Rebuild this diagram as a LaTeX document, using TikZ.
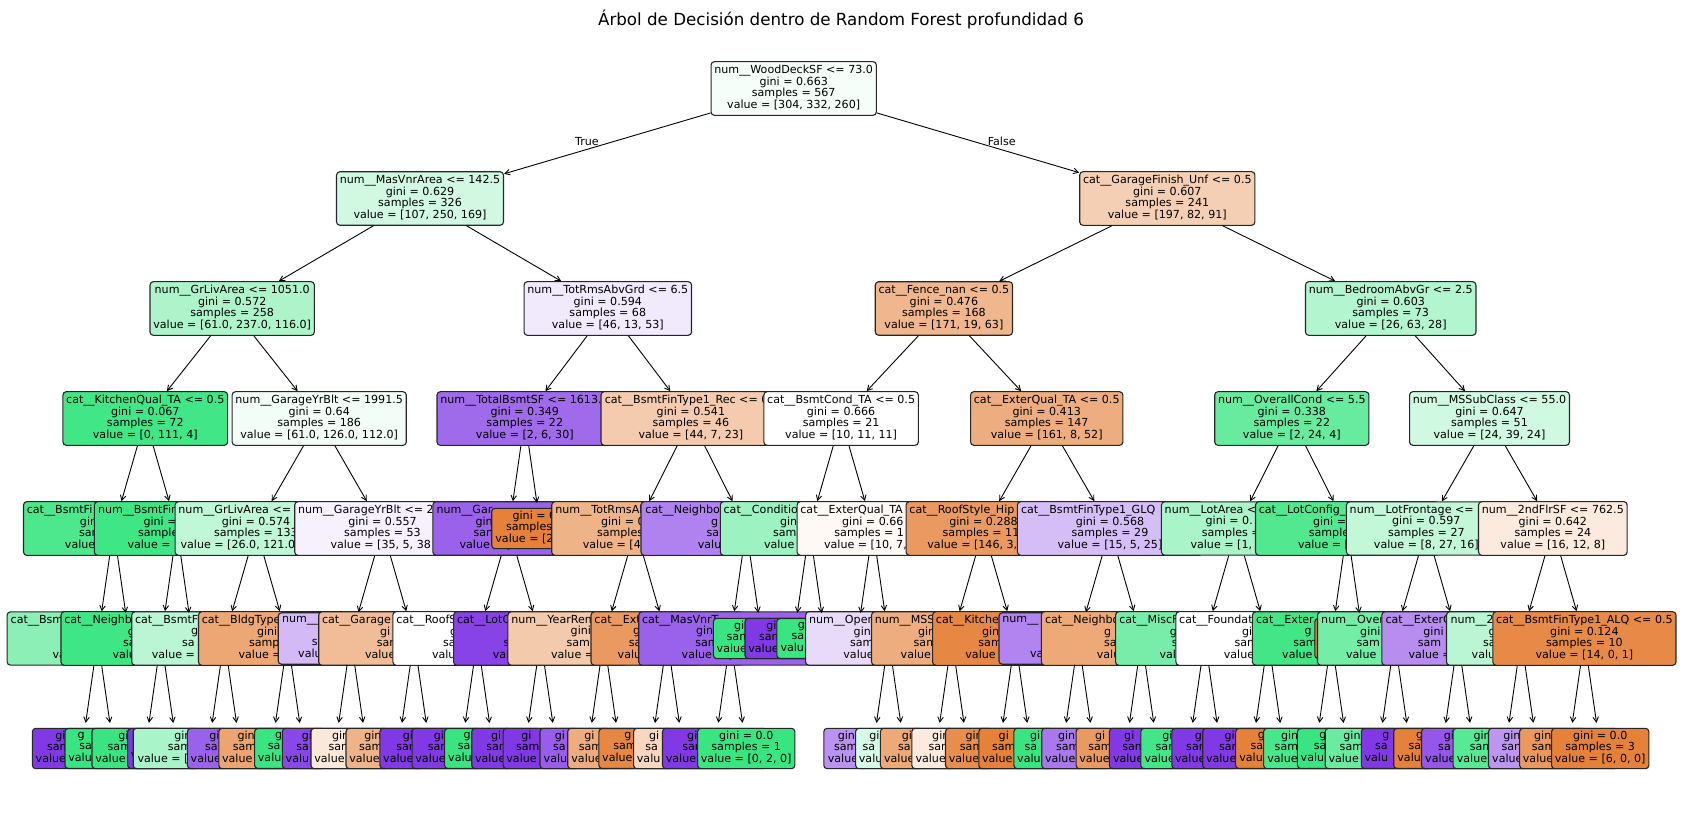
\documentclass[tikz,border=0pt]{standalone}
\usepackage{fontspec}
\setmainfont{DejaVu Sans}
\usetikzlibrary{arrows.meta}

\definecolor{corange}{HTML}{E58139}
\definecolor{cgreen}{HTML}{39E581}
\definecolor{cpurple}{HTML}{8139E5}

\newcommand{\nodefont}{\fontsize{11.1}{11.7}\selectfont}
% a text line of which only the left part shows
\newcommand{\cutl}[2]{\makebox[#1pt][l]{#2}}

\tikzset{
  box/.style={draw=black!85, line width=1.1pt, rounded corners=3.3pt, inner xsep=3.3pt, inner ysep=3.3pt,
    align=center, font=\nodefont, execute at begin node=\strut, execute at end node=\strut},
  leaf/.style={box, inner ysep=2.5pt, minimum height=40pt},
  link/.style={line width=0.9pt, -{Straight Barb[length=5pt, width=5.5pt]}},
  tolf/.style={link, shorten >=5pt},
}

\begin{document}
\begin{tikzpicture}[x=1pt, y=-1pt]
\useasboundingbox (0,0) rectangle (1683,814);

\node[font=\fontsize{16.7}{20}\selectfont] (title) at (841,19) {Árbol de Decisión dentro de Random Forest profundidad 6};

% depth 0 to 3
\node[box, fill=cgreen!5] (root) at (793.7,88.5) {num\_\_WoodDeckSF <= 73.0\\gini = 0.663\\samples = 567\\value = [304, 332, 260]};
\node[box, fill=cgreen!23] (masvnr) at (420.0,198.5) {num\_\_MasVnrArea <= 142.5\\gini = 0.629\\samples = 326\\value = [107, 250, 169]};
\node[box, fill=corange!38] (garfin) at (1167.3,198.5) {cat\_\_GarageFinish\_Unf <= 0.5\\gini = 0.607\\samples = 241\\value = [197, 82, 91]};
\node[box, fill=cgreen!41] (grliv) at (232.2,308.5) {num\_\_GrLivArea <= 1051.0\\gini = 0.572\\samples = 258\\value = [61.0, 237.0, 116.0]};
\node[box, fill=cpurple!11] (totrms) at (607.8,308.5) {num\_\_TotRmsAbvGrd <= 6.5\\gini = 0.594\\samples = 68\\value = [46, 13, 53]};
\node[box, fill=corange!57] (fence) at (943.9,308.5) {cat\_\_Fence\_nan <= 0.5\\gini = 0.476\\samples = 168\\value = [171, 19, 63]};
\node[box, fill=cgreen!39] (bedroom) at (1390.7,308.5) {num\_\_BedroomAbvGr <= 2.5\\gini = 0.603\\samples = 73\\value = [26, 63, 28]};
\node[box, fill=cgreen!96] (kitqual) at (145.3,418.5) {cat\_\_KitchenQual\_TA <= 0.5\\gini = 0.067\\samples = 72\\value = [0, 111, 4]};
\node[box, fill=cgreen!7] (garyr) at (319.2,418.5) {num\_\_GarageYrBlt <= 1991.5\\gini = 0.64\\samples = 186\\value = [61.0, 126.0, 112.0]};
\node[box, fill=cpurple!75, minimum width=174.8pt] (totbsmt) at (524.8,418.5) {\cutl{169}{num\_\_TotalBsmtSF <= 1613.}\\gini = 0.349\\samples = 22\\value = [2, 6, 30]};
\node[box, fill=corange!41, minimum width=179.8pt] (finrec) at (690.9,418.5) {\cutl{172.2}{cat\_\_BsmtFinType1\_Rec <= 0}\\gini = 0.541\\samples = 46\\value = [44, 7, 23]};
\node[box, fill=white] (bsmtcond) at (841.1,418.5) {cat\_\_BsmtCond\_TA <= 0.5\\gini = 0.666\\samples = 21\\value = [10, 11, 11]};
\node[box, fill=corange!65] (extqual) at (1046.7,418.5) {cat\_\_ExterQual\_TA <= 0.5\\gini = 0.413\\samples = 147\\value = [161, 8, 52]};
\node[box, fill=cgreen!77] (ovcond) at (1291.8,418.5) {num\_\_OverallCond <= 5.5\\gini = 0.338\\samples = 22\\value = [2, 24, 4]};
\node[box, fill=cgreen!24] (mssub) at (1489.5,418.5) {num\_\_MSSubClass <= 55.0\\gini = 0.647\\samples = 51\\value = [24, 39, 24]};

% depth 4
\node[box, fill=cgreen!90, minimum width=180pt] (finA) at (113.6,528.5) {\cutl{173.6}{cat\_\_BsmtFi}\\\cutl{67.2}{gin}\\\cutl{69.2}{sam}\\\cutl{97.2}{value}};
\node[box, fill=cgreen!97, minimum width=165.2pt] (finB) at (176.9,528.5) {\cutl{157.8}{num\_\_BsmtFin}\\\cutl{66.8}{gini =}\\\cutl{77.8}{sample}\\\cutl{98.8}{value = [}};
\node[box, fill=cgreen!32, minimum width=160.6pt] (grlivB) at (256.0,528.5) {\cutl{155.1}{num\_\_GrLivArea <=}\\gini = 0.574\\\cutl{83.9}{samples = 133}\\\cutl{150.9}{value = [26.0, 121.0}};
\node[box, fill=cpurple!7, minimum width=173.6pt] (garyrB) at (382.5,528.5) {\cutl{169}{num\_\_GarageYrBlt <= 2}\\gini = 0.557\\samples = 53\\\cutl{104}{value = [35, 5, 38}};
\node[box, fill=cpurple!80, minimum width=152.4pt] (garB) at (509.0,528.5) {\cutl{145}{num\_\_Gar}\\\cutl{66.8}{gin}\\\cutl{71}{sam}\\\cutl{98.8}{value = [0, 6, 30}};
\node[leaf, fill=corange, minimum width=97.8pt] (bsmtlf) at (540.6,528.5) {\cutl{56}{gini = 0}\\\cutl{69.2}{samples}\\\cutl{90.4}{value = [2}};
\node[box, fill=corange!60, minimum width=167.6pt] (totrmsB) at (635.5,528.5) {\cutl{160.2}{num\_\_TotRmsAb}\\\cutl{69}{gini = 0}\\\cutl{77}{samples}\\\cutl{105.4}{value = [4}};
\node[box, fill=cpurple!63, minimum width=210.4pt] (neighB) at (746.2,528.5) {\cutl{201.6}{cat\_\_Neighbor}\\\cutl{70}{g}\\\cutl{79.2}{sa}\\\cutl{96.8}{valu}};
\node[box, fill=cgreen!50, minimum width=178.2pt] (condB) at (809.5,528.5) {\cutl{171.8}{cat\_\_Conditio}\\\cutl{59}{gini}\\\cutl{73}{sam}\\\cutl{91}{value}};
\node[box, fill=corange!5, minimum width=151pt] (extqB) at (872.8,528.5) {\cutl{144.9}{cat\_\_ExterQual\_TA}\\gini = 0.66\\\cutl{76.7}{samples = 1}\\\cutl{97.5}{value = [10, 7,}};
\node[box, fill=corange!80, minimum width=154.4pt] (roofB) at (983.5,528.5) {\cutl{148.2}{cat\_\_RoofStyle\_Hip}\\gini = 0.288\\\cutl{81.6}{samples = 11}\\\cutl{112.2}{value = [146, 3,}};
\node[box, fill=cpurple!33, minimum width=185.2pt] (glqB) at (1110.0,528.5) {\cutl{178}{cat\_\_BsmtFinType1\_GLQ}\\gini = 0.568\\samples = 29\\value = [15, 5, 25]};
\node[box, fill=cgreen!43, minimum width=150pt] (lotarB) at (1236.5,528.5) {\cutl{143.6}{num\_\_LotArea <}\\\cutl{61.8}{gini = 0.}\\\cutl{69.4}{samples =}\\\cutl{92}{value = [1,}};
\node[box, fill=cgreen!88, minimum width=183.2pt] (lotcfB) at (1347.2,528.5) {\cutl{176.8}{cat\_\_LotConfig\_}\\\cutl{68.4}{gini =}\\\cutl{76.8}{sample}\\\cutl{98.4}{value = [}};
\node[box, fill=cgreen!31, minimum width=158.6pt] (lotfrB) at (1426.3,528.5) {\cutl{153.2}{num\_\_LotFrontage <=}\\gini = 0.597\\samples = 27\\value = [8, 27, 16]};
\node[box, fill=corange!17] (flrB) at (1552.8,528.5) {num\_\_2ndFlrSF <= 762.5\\gini = 0.642\\samples = 24\\value = [16, 12, 8]};

% depth 5
\node[box, fill=cgreen!58, minimum width=181.4pt] (e1) at (97.8,638.5) {\cutl{174.2}{cat\_\_Bsm}\\\mbox{}\\\mbox{}\\\cutl{90.6}{va}};
\coordinate (h1) at (125.7,613);
\node[box, fill=cgreen!97, minimum width=199.4pt] (e2) at (161.1,638.5) {\cutl{193.6}{cat\_\_Neighb}\\\cutl{66.4}{g}\\\cutl{76.2}{sa}\\\cutl{97.2}{valu}};
\coordinate (h2) at (189.0,613);
\node[box, fill=cgreen!35, minimum width=184.4pt] (e3) at (224.3,638.5) {\cutl{178.6}{cat\_\_BsmtF}\\\cutl{66.6}{g}\\\cutl{84.6}{sa}\\\cutl{145}{value =}};
\node[box, fill=corange!70, minimum width=178pt] (e4) at (287.6,638.5) {\cutl{171.6}{cat\_\_BldgType}\\\cutl{61.2}{gini}\\\cutl{77.2}{samp}\\\cutl{98}{value =}};
\node[box, fill=cpurple!35, minimum width=145.4pt] (e5) at (350.9,638.5) {\cutl{137.8}{num\_\_}\\\mbox{}\\\cutl{78.2}{s}\\\cutl{105.4}{valu}};
\node[box, fill=corange!52, minimum width=190.2pt] (e6) at (414.1,638.5) {\cutl{184.2}{cat\_\_Garage}\\\cutl{68.2}{gi}\\\cutl{74.6}{sam}\\\cutl{98.2}{value}};
\node[box, fill=white, minimum width=169pt] (e7) at (477.4,638.5) {\cutl{162}{cat\_\_RoofS}\\\cutl{54.8}{g}\\\cutl{68.8}{sa}\\\cutl{90.8}{valu}};
\node[box, fill=cpurple!95, minimum width=174pt] (e8) at (540.6,638.5) {\cutl{167.2}{cat\_\_LotC}\\\mbox{}\\\cutl{74}{s}\\\cutl{95.4}{val}};
\node[box, fill=corange!42, minimum width=192pt] (e9) at (603.9,638.5) {\cutl{185}{num\_\_YearRem}\\\cutl{66.4}{gini}\\\cutl{74.6}{sam}\\\cutl{105.8}{value =}};
\node[box, fill=corange!80, minimum width=152.4pt] (e10) at (667.2,638.5) {\cutl{145.6}{cat\_\_Ext}\\\cutl{68.4}{g}\\\cutl{76.8}{sa}\\\cutl{99}{valu}};
\node[box, fill=cpurple!80, minimum width=182.4pt] (e11) at (730.4,638.5) {\cutl{176.8}{cat\_\_MasVnrT}\\\cutl{68.8}{gini}\\\cutl{70}{sam}\\\cutl{97.4}{value = [0, 2, 10}};
\node[leaf, fill=cgreen, minimum width=96.4pt] (e12) at (762.0,638.5) {\cutl{55.8}{gi}\\\cutl{70.6}{sam}\\\cutl{90.6}{value}};
\node[leaf, fill=cpurple, minimum width=96.4pt] (e13) at (793.7,638.5) {\cutl{54.6}{gi}\\\cutl{69.4}{sam}\\\cutl{90.8}{value}};
\node[leaf, fill=cgreen, minimum width=97pt] (e14) at (825.3,638.5) {\cutl{54.8}{g}\\\cutl{67.4}{sa}\\\cutl{89.6}{valu}};
\coordinate (h3) at (860.6,613);
\node[box, fill=cpurple!18, minimum width=166pt] (e15) at (888.6,638.5) {\cutl{159.2}{num\_\_Open}\\\cutl{69.8}{gin}\\\cutl{77.2}{sam}\\\cutl{90.4}{value}};
\node[box, fill=corange!65, minimum width=159.2pt] (e16) at (951.8,638.5) {\cutl{154}{num\_\_MSS}\\\cutl{67.6}{gin}\\\cutl{76.2}{sam}\\\cutl{102.2}{value}};
\node[box, fill=corange!95, minimum width=164.4pt] (e17) at (1015.1,638.5) {\cutl{158.4}{cat\_\_Kitche}\\\cutl{66.2}{gin}\\\cutl{73.4}{sam}\\\cutl{99.4}{value}};
\node[box, fill=cpurple!62, minimum width=158.6pt] (e18) at (1078.3,638.5) {\cutl{151.8}{num\_\_}\\\mbox{}\\\mbox{}\\\cutl{96.4}{va}};
\node[box, fill=corange!68, minimum width=200.6pt] (e19) at (1141.6,638.5) {\cutl{193.2}{cat\_\_Neighbo}\\\cutl{74.8}{g}\\\cutl{75.2}{sa}\\\cutl{89.6}{valu}};
\node[box, fill=cgreen!68, minimum width=178.6pt] (e20) at (1204.9,638.5) {\cutl{171.2}{cat\_\_MiscF}\\\cutl{70}{g}\\\cutl{66}{s}\\\cutl{90.8}{valu}};
\node[box, fill=white, minimum width=183.8pt] (e21) at (1268.1,638.5) {\cutl{177.8}{cat\_\_Foundat}\\\cutl{52.2}{gi}\\\cutl{67}{sam}\\\cutl{88.6}{value}};
\node[box, fill=cgreen!95, minimum width=158pt] (e22) at (1331.4,638.5) {\cutl{150.6}{cat\_\_Exter}\\\cutl{53.8}{g}\\\cutl{76.2}{sam}\\\cutl{98.4}{value}};
\node[leaf, fill=corange, minimum width=96.4pt] (e23) at (1363.0,638.5) {};
\node[box, fill=cgreen!70, minimum width=154.2pt] (e24) at (1394.6,638.5) {\cutl{146.8}{num\_\_Over}\\\cutl{68.8}{gini}\\\cutl{76.2}{sam}\\\cutl{97}{value}};
\node[box, fill=cpurple!57, minimum width=152.2pt] (e25) at (1457.9,638.5) {\cutl{144.8}{cat\_\_ExterQ}\\\cutl{69}{gini}\\\cutl{80.2}{sam}\\\cutl{98.6}{value =}};
\node[box, fill=cgreen!35, minimum width=149.4pt] (e26) at (1521.2,638.5) {\cutl{141.2}{num\_\_2n}\\\cutl{65.4}{g}\\\cutl{76.4}{sa}\\\cutl{99}{valu}};
\node[box, fill=corange!93] (e27) at (1584.4,638.5) {cat\_\_BsmtFinType1\_ALQ <= 0.5\\gini = 0.124\\samples = 10\\value = [14, 0, 1]};

% depth 6, leaves
\node[leaf, fill=cpurple, minimum width=97.6pt] (l0) at (82.0,748.5) {\cutl{53.2}{gi}\\\cutl{69.8}{sam}\\\cutl{92.6}{value}};
\node[leaf, fill=cgreen, minimum width=96.4pt] (l1) at (113.6,748.5) {\cutl{71.8}{g}\\\cutl{68.6}{sa}\\\cutl{90.6}{valu}};
\node[leaf, fill=cgreen, minimum width=103.4pt] (l2) at (145.3,748.5) {\cutl{54}{gi}\\\cutl{75.2}{sam}\\\cutl{100}{value}};
\node[leaf, fill=cpurple, minimum width=95.2pt] (l3) at (176.9,748.5) {\mbox{}\\\mbox{}\\\cutl{92}{v}};
\node[leaf, fill=cgreen!43, minimum width=150.6pt] (l4) at (208.5,748.5) {\cutl{68.4}{gin}\\\cutl{81.2}{sam}\\\cutl{142}{value = [}};
\node[leaf, fill=cpurple!80, minimum width=103.8pt] (l5) at (240.2,748.5) {\cutl{61.8}{gi}\\\cutl{70.4}{sa}\\\cutl{99}{value}};
\node[leaf, fill=corange!72, minimum width=104.4pt] (l6) at (271.8,748.5) {\cutl{68.6}{gin}\\\cutl{77.8}{sam}\\\cutl{99.4}{value}};
\node[leaf, fill=cgreen, minimum width=96pt] (l7) at (303.4,748.5) {\cutl{56.8}{g}\\\cutl{71}{sa}\\\cutl{91}{valu}};
\node[leaf, fill=cpurple!93, minimum width=104.2pt] (l8) at (335.0,748.5) {\cutl{66.4}{gi}\\\cutl{77.2}{sa}\\\cutl{98.6}{valu}};
\node[leaf, fill=corange!18, minimum width=109.8pt] (l9) at (366.7,748.5) {\cutl{69.4}{gin}\\\cutl{76.2}{sam}\\\cutl{104.8}{value}};
\node[leaf, fill=corange!60, minimum width=103.8pt] (l10) at (398.3,748.5) {\cutl{68}{gin}\\\cutl{78.6}{sam}\\\cutl{98}{value}};
\node[leaf, fill=cpurple, minimum width=97pt] (l11) at (429.9,748.5) {\cutl{54}{gi}\\\cutl{67}{sam}\\\cutl{93.4}{value}};
\node[leaf, fill=cpurple, minimum width=96.8pt] (l12) at (461.6,748.5) {\cutl{55.4}{gi}\\\cutl{67.4}{sam}\\\cutl{92.4}{value}};
\node[leaf, fill=cgreen, minimum width=97.2pt] (l13) at (493.2,748.5) {\cutl{59.2}{g}\\\cutl{70.6}{sa}\\\cutl{90}{valu}};
\node[leaf, fill=cpurple, minimum width=103.2pt] (l14) at (524.8,748.5) {\cutl{67.6}{gi}\\\cutl{76.8}{sam}\\\cutl{99.6}{value}};
\node[leaf, fill=cpurple, minimum width=104.4pt] (l15) at (556.5,748.5) {\cutl{70.2}{gi}\\\cutl{81}{sam}\\\cutl{100.2}{value}};
\node[leaf, fill=cpurple!82, minimum width=96.2pt] (l16) at (588.1,748.5) {\cutl{66.6}{gi}\\\cutl{70.2}{sa}\\\cutl{88.8}{valu}};
\node[leaf, fill=corange!65, minimum width=104pt] (l17) at (619.7,748.5) {\cutl{70.6}{gi}\\\cutl{81.8}{sam}\\\cutl{96.6}{value}};
\node[leaf, fill=corange!95, minimum width=104.2pt] (l18) at (651.3,748.5) {\cutl{53.8}{g}\\\cutl{76}{sam}\\\cutl{98.2}{value}};
\node[leaf, fill=corange!32, minimum width=97.4pt] (l19) at (683.0,748.5) {\cutl{67.8}{gi}\\\cutl{75.2}{sa}\\\cutl{92.2}{valu}};
\node[leaf, fill=cpurple, minimum width=102.8pt] (l20) at (714.6,748.5) {\cutl{54.8}{gi}\\\cutl{64.4}{sam}\\\cutl{97.6}{value}};
\node[leaf, fill=cgreen] (l21) at (746.2,748.5) {gini = 0.0\\samples = 1\\value = [0, 2, 0]};
\node[leaf, fill=cpurple!55, minimum width=98pt] (l25) at (872.8,748.5) {\cutl{69.9}{gin}\\\cutl{77.3}{sam}\\\cutl{89.9}{value}};
\node[leaf, fill=cgreen!20, minimum width=96.2pt] (l26) at (904.4,748.5) {\cutl{70.2}{gi}\\\cutl{83.6}{sa}\\\cutl{91}{valu}};
\node[leaf, fill=corange!68, minimum width=111.2pt] (l27) at (936.0,748.5) {\cutl{68.4}{gi}\\\cutl{75.8}{sa}\\\cutl{103.8}{value}};
\node[leaf, fill=corange!17, minimum width=111.6pt] (l28) at (967.6,748.5) {\cutl{70.8}{gin}\\\cutl{78.2}{sam}\\\cutl{104.2}{value}};
\node[leaf, fill=corange!90, minimum width=104.6pt] (l29) at (999.3,748.5) {\cutl{67.6}{gin}\\\cutl{78.8}{sam}\\\cutl{101}{value}};
\node[leaf, fill=corange, minimum width=103.4pt] (l30) at (1030.9,748.5) {\cutl{64.4}{gi}\\\cutl{77.6}{sam}\\\cutl{97.6}{value}};
\node[leaf, fill=cgreen, minimum width=96.6pt] (l31) at (1062.5,748.5) {\cutl{64.8}{gi}\\\cutl{76}{sa}\\\cutl{90.6}{valu}};
\node[leaf, fill=cpurple!68, minimum width=104.4pt] (l32) at (1094.2,748.5) {\cutl{72.4}{gin}\\\cutl{76.4}{sam}\\\cutl{98.4}{value}};
\node[leaf, fill=corange!80, minimum width=97.2pt] (l33) at (1125.8,748.5) {\cutl{61.6}{gi}\\\cutl{75}{sam}\\\cutl{92.8}{value}};
\node[leaf, fill=cpurple, minimum width=96.2pt] (l34) at (1157.4,748.5) {\cutl{66.4}{gi}\\\cutl{70.2}{sam}\\\cutl{88.8}{value}};
\node[leaf, fill=cgreen!95, minimum width=96.4pt] (l35) at (1189.0,748.5) {\cutl{53.2}{gi}\\\cutl{66.6}{sam}\\\cutl{89}{value}};
\node[leaf, fill=cpurple, minimum width=96.4pt] (l36) at (1220.7,748.5) {\cutl{51.8}{gi}\\\cutl{69}{sam}\\\cutl{91.2}{value}};
\node[leaf, fill=cpurple, minimum width=96.4pt] (l37) at (1252.3,748.5) {\cutl{55.6}{gi}\\\cutl{66.6}{sam}\\\cutl{92.6}{value}};
\node[leaf, fill=corange, minimum width=96.6pt] (l38) at (1283.9,748.5) {\cutl{52}{g}\\\cutl{66.8}{sa}\\\cutl{89.2}{valu}};
\node[leaf, fill=cgreen!92, minimum width=104pt] (l39) at (1315.6,748.5) {\cutl{69.2}{gin}\\\cutl{81.8}{sam}\\\cutl{96.6}{value}};
\node[leaf, fill=cgreen, minimum width=96.6pt] (l40) at (1347.2,748.5) {\cutl{55.8}{g}\\\cutl{66.8}{sa}\\\cutl{93}{valu}};
\node[leaf, fill=cgreen!75, minimum width=104.2pt] (l41) at (1378.8,748.5) {\cutl{70.8}{gin}\\\cutl{78.2}{sam}\\\cutl{100.6}{value}};
\node[leaf, fill=cpurple, minimum width=96.8pt] (l42) at (1410.4,748.5) {\cutl{56}{g}\\\cutl{70.8}{sa}\\\cutl{91.6}{valu}};
\node[leaf, fill=corange, minimum width=96.8pt] (l43) at (1442.1,748.5) {\cutl{52.2}{g}\\\cutl{67}{sa}\\\cutl{89.4}{valu}};
\node[leaf, fill=cpurple!85, minimum width=104.4pt] (l44) at (1473.7,748.5) {\cutl{59.8}{gi}\\\cutl{71}{sa}\\\cutl{97}{value}};
\node[leaf, fill=cgreen!85, minimum width=104.4pt] (l45) at (1505.3,748.5) {\cutl{63.6}{gin}\\\cutl{71}{sam}\\\cutl{97}{value}};
\node[leaf, fill=cpurple!53, minimum width=97pt] (l46) at (1537.0,748.5) {\cutl{67.4}{gin}\\\cutl{71}{sam}\\\cutl{89.6}{value}};
\node[leaf, fill=corange!82, minimum width=97.2pt] (l47) at (1568.6,748.5) {\cutl{69}{gin}\\\cutl{73.4}{sam}\\\cutl{91.4}{value}};
\node[leaf, fill=corange] (l48) at (1600.2,748.5) {gini = 0.0\\samples = 3\\value = [6, 0, 0]};

% branch labels
\node[font=\nodefont] (truelbl) at (587,141.5) {True};
\node[font=\nodefont] (falselbl) at (1001.7,141.5) {False};

% connectors
\draw[link] (root) -- (masvnr);
\draw[link] (root) -- (garfin);
\draw[link] (masvnr) -- (grliv);
\draw[link] (masvnr) -- (totrms);
\draw[link] (garfin) -- (fence);
\draw[link] (garfin) -- (bedroom);
\draw[link] (grliv) -- (kitqual);
\draw[link] (grliv) -- (garyr);
\draw[link] (totrms) -- (totbsmt);
\draw[link] (totrms) -- (finrec);
\draw[link] (fence) -- (bsmtcond);
\draw[link] (fence) -- (extqual);
\draw[link] (bedroom) -- (ovcond);
\draw[link] (bedroom) -- (mssub);
\draw[link] (kitqual) -- (finA);
\draw[link] (kitqual) -- (finB);
\draw[link] (garyr) -- (grlivB);
\draw[link] (garyr) -- (garyrB);
\draw[link] (totbsmt) -- (garB);
\draw[tolf] (totbsmt) -- (bsmtlf);
\draw[link] (finrec) -- (totrmsB);
\draw[link] (finrec) -- (neighB);
\draw[link] (bsmtcond) -- (condB);
\draw[link] (bsmtcond) -- (extqB);
\draw[link] (extqual) -- (roofB);
\draw[link] (extqual) -- (glqB);
\draw[link] (ovcond) -- (lotarB);
\draw[link] (ovcond) -- (lotcfB);
\draw[link] (mssub) -- (lotfrB);
\draw[link] (mssub) -- (flrB);
\draw[link] (finA) -- (e1);
\draw[link] (finA) -- (h1);
\draw[link] (finB) -- (e2);
\draw[link] (finB) -- (h2);
\draw[link] (grlivB) -- (e3);
\draw[link] (grlivB) -- (e4);
\draw[link] (garyrB) -- (e5);
\draw[link] (garyrB) -- (e6);
\draw[link] (garB) -- (e7);
\draw[link] (garB) -- (e8);
\draw[link] (totrmsB) -- (e9);
\draw[link] (totrmsB) -- (e10);
\draw[link] (neighB) -- (e11);
\draw[tolf] (neighB) -- (e12);
\draw[tolf] (condB) -- (e13);
\draw[tolf] (condB) -- (e14);
\draw[link] (extqB) -- (h3);
\draw[link] (extqB) -- (e15);
\draw[link] (roofB) -- (e16);
\draw[link] (roofB) -- (e17);
\draw[link] (glqB) -- (e18);
\draw[link] (glqB) -- (e19);
\draw[link] (lotarB) -- (e20);
\draw[link] (lotarB) -- (e21);
\draw[link] (lotcfB) -- (e22);
\draw[tolf] (lotcfB) -- (e23);
\draw[link] (lotfrB) -- (e24);
\draw[link] (lotfrB) -- (e25);
\draw[link] (flrB) -- (e26);
\draw[link] (flrB) -- (e27);
\draw[tolf] (e1) -- (l0);
\draw[tolf] (e1) -- (l1);
\draw[tolf] (e2) -- (l2);
\draw[tolf] (e2) -- (l3);
\draw[tolf] (e3) -- (l4);
\draw[tolf] (e3) -- (l5);
\draw[tolf] (e4) -- (l6);
\draw[tolf] (e4) -- (l7);
\draw[tolf] (e5) -- (l8);
\draw[tolf] (e5) -- (l9);
\draw[tolf] (e6) -- (l10);
\draw[tolf] (e6) -- (l11);
\draw[tolf] (e7) -- (l12);
\draw[tolf] (e7) -- (l13);
\draw[tolf] (e8) -- (l14);
\draw[tolf] (e8) -- (l15);
\draw[tolf] (e9) -- (l16);
\draw[tolf] (e9) -- (l17);
\draw[tolf] (e10) -- (l18);
\draw[tolf] (e10) -- (l19);
\draw[tolf] (e11) -- (l20);
\draw[tolf] (e11) -- (l21);
\draw[tolf] (e15) -- (l25);
\draw[tolf] (e15) -- (l26);
\draw[tolf] (e16) -- (l27);
\draw[tolf] (e16) -- (l28);
\draw[tolf] (e17) -- (l29);
\draw[tolf] (e17) -- (l30);
\draw[tolf] (e18) -- (l31);
\draw[tolf] (e18) -- (l32);
\draw[tolf] (e19) -- (l33);
\draw[tolf] (e19) -- (l34);
\draw[tolf] (e20) -- (l35);
\draw[tolf] (e20) -- (l36);
\draw[tolf] (e21) -- (l37);
\draw[tolf] (e21) -- (l38);
\draw[tolf] (e22) -- (l39);
\draw[tolf] (e22) -- (l40);
\draw[tolf] (e24) -- (l41);
\draw[tolf] (e24) -- (l42);
\draw[tolf] (e25) -- (l43);
\draw[tolf] (e25) -- (l44);
\draw[tolf] (e26) -- (l45);
\draw[tolf] (e26) -- (l46);
\draw[tolf] (e27) -- (l47);
\draw[tolf] (e27) -- (l48);
\end{tikzpicture}
\end{document}
